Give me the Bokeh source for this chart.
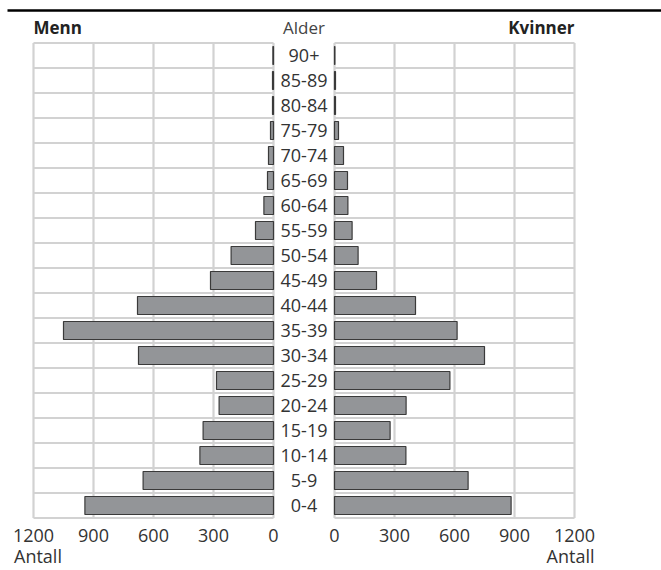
from bokeh.plotting import figure
from bokeh.models import Range1d, ColumnDataSource
from bokeh.core.properties import value
from bokeh.embed import file_html
from bokeh.resources import INLINE

# ---- data ----
ages = ["0-4", "5-9", "10-14", "15-19", "20-24", "25-29", "30-34", "35-39", "40-44",
        "45-49", "50-54", "55-59", "60-64", "65-69", "70-74", "75-79", "80-84", "85-89", "90+"]
menn = [943, 652, 368, 352, 272, 285, 675, 1050, 680, 315, 212, 90, 48, 30, 25, 15, 5, 5, 3]
kvinner = [883, 668, 357, 278, 358, 577, 750, 613, 405, 210, 118, 88, 67, 65, 45, 20, 5, 5, 2]
ticks = [0, 300, 600, 900, 1200]
tick_labels = ["0", "300", "600", "900", "1200"]

G = 152.5  # half gap between the two panels (data units)
FONT = "Open Sans"

n = len(ages)
idx = list(range(n))
src = ColumnDataSource(dict(
    y=idx, age=ages,
    m_left=[-(v + G) for v in menn], m_right=[-G] * n,
    k_left=[G] * n, k_right=[v + G for v in kvinner],
    tx=[0] * n,
))

p = figure(width=661, height=570, output_backend="svg", toolbar_location=None,
           x_range=Range1d(-1517.5, 1787.5), y_range=Range1d(-2.6, 20.2),
           x_axis_type=None, y_axis_type=None,
           min_border_left=0, min_border_right=0, min_border_top=0, min_border_bottom=0)
p.outline_line_color = None
p.grid.visible = False
p.background_fill_color = "white"
p.border_fill_color = "white"

xmax = max(ticks)
grid_col = "#d2d2d2"
# vertical grid lines
vx = [-(t + G) for t in ticks] + [t + G for t in ticks]
p.segment(x0=vx, x1=vx, y0=[-0.5] * len(vx), y1=[n - 0.5] * len(vx),
          line_color=grid_col, line_width=2.2)
# horizontal grid lines
hb = [i - 0.5 for i in range(n + 1)]
p.segment(x0=[-(xmax + G)] * len(hb), x1=[-G] * len(hb), y0=hb, y1=hb,
          line_color=grid_col, line_width=2.2)
p.segment(x0=[G] * len(hb), x1=[xmax + G] * len(hb), y0=hb, y1=hb,
          line_color=grid_col, line_width=2.2)

bar_fill = "#939598"
bar_line = "#3a3a3a"
p.hbar(y="y", left="m_left", right="m_right", height=0.72, source=src,
       fill_color=bar_fill, line_color=bar_line, line_width=1.2)
p.hbar(y="y", left="k_left", right="k_right", height=0.72, source=src,
       fill_color=bar_fill, line_color=bar_line, line_width=1.2)

# age labels
p.text(x="tx", y="y", text="age", source=src, text_align="center",
       text_baseline="middle", text_font=value(FONT), text_font_size="18px",
       text_color="#333333")

# top rule
p.segment(x0=[-1482.5], x1=[1787.5], y0=[n + 0.8], y1=[n + 0.8],
          line_color="black", line_width=2.5)

# titles
ty = n + 0.12
p.text(x=[-(xmax + G)], y=[ty], text=["Menn"], text_align="left", text_baseline="middle",
       text_font=value(FONT), text_font_size="17px", text_font_style="bold",
       text_color="#222222")
p.text(x=[xmax + G], y=[ty], text=["Kvinner"], text_align="right", text_baseline="middle",
       text_font=value(FONT), text_font_size="17px", text_font_style="bold",
       text_color="#222222")
p.text(x=[0], y=[ty], text=["Alder"], text_align="center", text_baseline="middle",
       text_font=value(FONT), text_font_size="17px", text_color="#444444")

# tick labels
tick_x = [-(t + G) for t in ticks] + [t + G for t in ticks]
tick_t = tick_labels + tick_labels
p.text(x=tick_x, y=[-1.2] * len(tick_x), text=tick_t, text_align="center",
       text_baseline="middle", text_font=value(FONT), text_font_size="18px",
       text_color="#333333")

# axis titles
p.text(x=[-(xmax + G)], y=[-2.02], text=["Antall"], x_offset=-19.5, text_align="left",
       text_baseline="middle", text_font=value(FONT), text_font_size="18px",
       text_color="#333333")
p.text(x=[xmax + G], y=[-2.02], text=["Antall"], x_offset=20, text_align="right",
       text_baseline="middle", text_font=value(FONT), text_font_size="18px",
       text_color="#333333")

open("out.html", "w").write(file_html(p, INLINE))
